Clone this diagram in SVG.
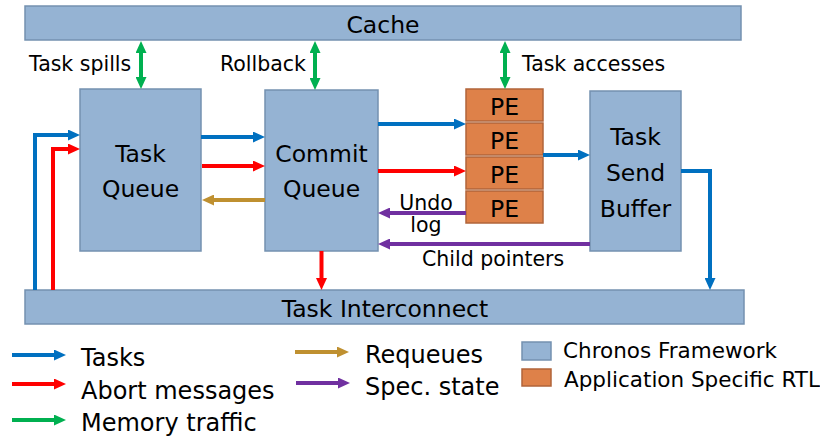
<svg xmlns="http://www.w3.org/2000/svg" width="820" height="438" viewBox="0 0 820 438">
  <style>
    text { font-family: "DejaVu Sans", "Liberation Sans", sans-serif; fill: #000; }
    .fw { fill: #95b3d3; stroke: #7491b0; stroke-width: 1.5; }
    .rtl { fill: #de8149; stroke: #b1643a; stroke-width: 1.5; }
    .lbl { font-size: 20.5px; }
    .box { font-size: 23.5px; text-anchor: middle; }
    .bar { font-size: 23.5px; text-anchor: middle; }
    .leg { font-size: 24px; }
    .key { font-size: 21.5px; }
    .c { fill: none; stroke-width: 4; }
    .blue { stroke: #0070c0; marker-end: url(#hBlue); }
    .red { stroke: #ff0000; marker-end: url(#hRed); }
    .gold { stroke: #bf9030; marker-end: url(#hGold); }
    .purple { stroke: #7030a0; marker-end: url(#hPurple); }
    .green { stroke: #00b050; marker-start: url(#hGreen); marker-end: url(#hGreen); }
  </style>
  <defs>
    <marker id="hBlue" markerUnits="userSpaceOnUse" markerWidth="12" markerHeight="11" refX="1" refY="5.5" orient="auto"><path d="M0,0 L12,5.5 L0,11 z" fill="#0070c0"/></marker>
    <marker id="hRed" markerUnits="userSpaceOnUse" markerWidth="12" markerHeight="11" refX="1" refY="5.5" orient="auto"><path d="M0,0 L12,5.5 L0,11 z" fill="#ff0000"/></marker>
    <marker id="hGold" markerUnits="userSpaceOnUse" markerWidth="12" markerHeight="11" refX="1" refY="5.5" orient="auto"><path d="M0,0 L12,5.5 L0,11 z" fill="#bf9030"/></marker>
    <marker id="hPurple" markerUnits="userSpaceOnUse" markerWidth="12" markerHeight="11" refX="1" refY="5.5" orient="auto"><path d="M0,0 L12,5.5 L0,11 z" fill="#7030a0"/></marker>
    <marker id="hGreen" markerUnits="userSpaceOnUse" markerWidth="12" markerHeight="11" refX="1" refY="5.5" orient="auto-start-reverse"><path d="M0,0 L12,5.5 L0,11 z" fill="#00b050"/></marker>
  </defs>

  <!-- memory hierarchy bar -->
  <g id="cache">
    <rect class="fw" x="25" y="6" width="716" height="34"/>
    <text class="bar" x="383" y="33" font-size="25">Cache</text>
  </g>

  <g id="task-queue">
    <rect class="fw" x="80" y="89" width="121" height="162"/>
    <text class="box" x="140.5" y="162">Task</text>
    <text class="box" x="140.5" y="197">Queue</text>
  </g>

  <g id="commit-queue">
    <rect class="fw" x="265" y="90" width="113" height="161"/>
    <text class="box" x="321.5" y="162">Commit</text>
    <text class="box" x="321.5" y="197">Queue</text>
  </g>

  <g id="pe-1">
    <rect class="rtl" x="466" y="89" width="77" height="32"/>
    <text class="box" x="504.5" y="115" font-size="22">PE</text>
  </g>
  <g id="pe-2">
    <rect class="rtl" x="466" y="123" width="77" height="32"/>
    <text class="box" x="504.5" y="149" font-size="22">PE</text>
  </g>
  <g id="pe-3">
    <rect class="rtl" x="466" y="157" width="77" height="32"/>
    <text class="box" x="504.5" y="183" font-size="22">PE</text>
  </g>
  <g id="pe-4">
    <rect class="rtl" x="466" y="191" width="77" height="32"/>
    <text class="box" x="504.5" y="217" font-size="22">PE</text>
  </g>

  <g id="task-send-buffer">
    <rect class="fw" x="590" y="91" width="91" height="160"/>
    <text class="box" x="635.5" y="145">Task</text>
    <text class="box" x="635.5" y="181">Send</text>
    <text class="box" x="635.5" y="217">Buffer</text>
  </g>

  <g id="task-interconnect">
    <rect class="fw" x="25" y="290" width="719" height="34"/>
    <text class="bar" x="385" y="317">Task Interconnect</text>
  </g>

  <!-- connectors -->
  <g id="connectors">
    <path class="c green" d="M141,52 V78"/>
    <path class="c green" d="M315,52 V79"/>
    <path class="c green" d="M505,52 V78"/>

    <path class="c blue" d="M201,137 H254"/>
    <path class="c red" d="M202,166 H254"/>
    <path class="c gold" d="M265,200 H213"/>

    <path class="c blue" d="M35,290 V135 H69"/>
    <path class="c red" d="M53,290 V149 H69"/>

    <path class="c blue" d="M378,124 H455"/>
    <path class="c red" d="M378,171 H455"/>
    <path class="c purple" d="M466,213 H389"/>
    <path class="c purple" d="M590,244 H389"/>

    <path class="c blue" d="M543,155 H579"/>
    <path class="c blue" d="M681,171 H710 V279"/>
    <path class="c red" d="M321.5,251 V279" stroke-width="3.5"/>

    <text class="lbl" x="29" y="71">Task spills</text>
    <text class="lbl" x="220" y="71">Rollback</text>
    <text class="lbl" x="522" y="71">Task accesses</text>
    <text class="lbl" x="426" y="210" text-anchor="middle">Undo</text>
    <text class="lbl" x="426" y="232" text-anchor="middle">log</text>
    <text class="lbl" x="422" y="266">Child pointers</text>
  </g>

  <!-- key -->
  <g id="legend">
    <path class="c blue" d="M12,355 H55"/>
    <text class="leg" x="81" y="366">Tasks</text>
    <path class="c red" d="M12,384 H55"/>
    <text class="leg" x="81" y="399">Abort messages</text>
    <path class="c" stroke="#00b050" marker-end="url(#hGreen)" d="M12,420 H55"/>
    <text class="leg" x="81" y="431">Memory traffic</text>

    <path class="c gold" d="M295,352 H338"/>
    <text class="leg" x="365" y="363">Requeues</text>
    <path class="c purple" d="M296,383 H339"/>
    <text class="leg" x="365" y="395">Spec. state</text>

    <rect class="fw" x="522" y="342" width="29" height="18"/>
    <text class="key" x="563" y="358">Chronos Framework</text>
    <rect class="rtl" x="522" y="369" width="29" height="17"/>
    <text class="key" x="564" y="387" font-size="20.5">Application Specific RTL</text>
  </g>
</svg>
